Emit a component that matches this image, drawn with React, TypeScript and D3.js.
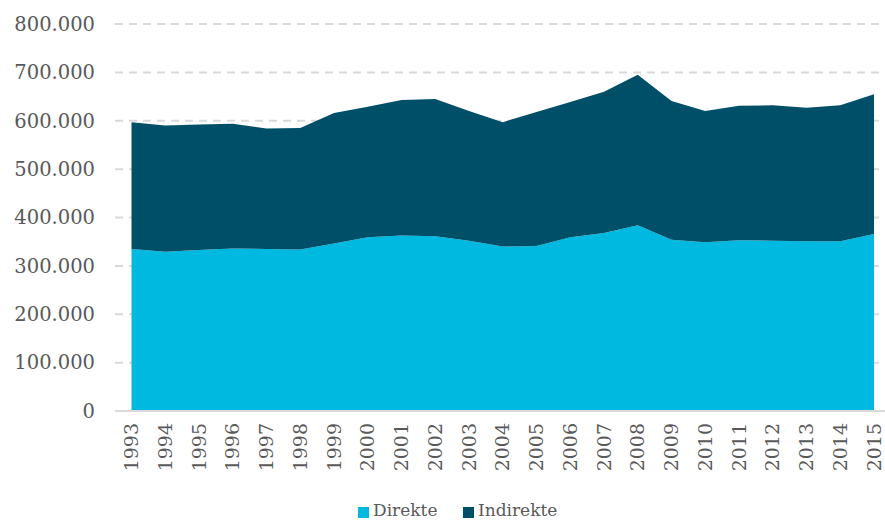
import React from "react";
import * as d3 from "d3";

const years = ["1993","1994","1995","1996","1997","1998","1999","2000","2001","2002","2003","2004","2005","2006","2007","2008","2009","2010","2011","2012","2013","2014","2015"];
const direkte = [335000,329000,333000,336000,335000,334000,346000,359000,363000,361000,352000,340000,341000,359000,368000,384000,354000,349000,353000,352000,351000,351000,366000];
const indirekte = [262000,261000,259000,258000,249000,251000,270000,270000,280000,284000,268000,257000,277000,280000,292000,311000,287000,271000,278000,280000,276000,281000,289000];
const yTicks = [0,100000,200000,300000,400000,500000,600000,700000,800000];
const seriesNames = ["Direkte","Indirekte"];
const colors = ["#00B9E1","#004F69"];

const W = 885, H = 521;
const FONT = "'DejaVu Serif', serif";

export default function App() {
  const x = d3.scalePoint<string>().domain(years).range([131.5, 874]);
  const y = d3.scaleLinear().domain([0, 800000]).range([411, 24]);
  const rows = years.map((yr, i) => ({ year: yr, Direkte: direkte[i], Indirekte: indirekte[i] }));
  const stack = d3.stack<any>().keys(seriesNames)(rows);
  const area = d3.area<any>()
    .x((d) => x(d.data.year)!)
    .y0((d) => y(d[0]))
    .y1((d) => y(d[1]));
  const fmt = (v: number) => v === 0 ? "0" : d3.format(",")(v).replace(/,/g, ".");
  return (
    <svg width={W} height={H} style={{ position: "absolute", left: 0, top: 0, background: "#fff" }}>
      {yTicks.filter((t) => t > 0).map((t) => (
        <line key={t} x1={115} x2={885} y1={y(t)} y2={y(t)} stroke="#d9d9d9" strokeWidth={2} strokeDasharray="8,6" />
      ))}
      {stack.map((s, i) => (
        <path key={s.key} d={area(s as any)!} fill={colors[i]} />
      ))}
      <line x1={115} x2={885} y1={y(0)} y2={y(0)} stroke="#d9d9d9" strokeWidth={2} />
      {yTicks.map((t) => (
        <text key={t} x={95} y={y(t)} dy="0.35em" textAnchor="end" fontFamily={FONT} fontSize={19.5} fill="#595959">{fmt(t)}</text>
      ))}
      {years.map((yr) => (
        <text key={yr} transform={`translate(${x(yr)! + 6.5},${423}) rotate(-90)`} textAnchor="end" fontFamily={FONT} fontSize={19} fill="#595959">{yr}</text>
      ))}
      {seriesNames.map((n, i) => {
        const lx = [358, 463][i];
        return (
          <g key={n}>
            <rect x={lx} y={507} width={11} height={11} fill={colors[i]} />
            <text x={lx + 15} y={516} fontFamily={FONT} fontSize={17} fill="#595959">{n}</text>
          </g>
        );
      })}
    </svg>
  );
}
